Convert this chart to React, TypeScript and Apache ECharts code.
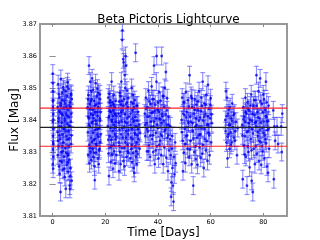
import React, { useEffect, useRef } from "react";
import * as echarts from "echarts";

const TITLE = "Beta Pictoris Lightcurve";
const X_TICKS = [0, 20, 40, 60, 80];
const X_MIN = -4.8;
const X_MAX = 89;
const MEAN = 3.8377;
const UPPER = 3.8437;
const LOWER = 3.8318;
const ERR = 0.0028;

const seg0 = [[0.05,3.8545],[0.1,3.8515],[0.15,3.849],[0.2,3.8462],[0.1,3.844],[0.25,3.8418],[0.05,3.8395],[0.3,3.8372],[0.15,3.835],[0.2,3.8331],[0.1,3.8308],[0.3,3.8285],[0.05,3.8262],[0.2,3.8248],[0.25,3.8402],[0.1,3.8458],[0.3,3.8325]];
const seg1 = [[1.9,3.844],[1.9,3.8362],[2.0,3.829],[2.1,3.8512],[2.2,3.8405],[2.3,3.8318],[2.4,3.8255],[2.5,3.847],[2.6,3.838],[2.7,3.8232],[2.8,3.8425],[2.9,3.834],[3.0,3.8175],[3.1,3.8528],[3.2,3.8452],[3.3,3.83],[3.4,3.8392],[3.5,3.8268],[3.6,3.8485],[3.7,3.8355],[3.8,3.8415],[3.9,3.8245],[4.0,3.8502],[4.1,3.833],[4.2,3.8438],[4.3,3.8285],[4.4,3.8375],[4.5,3.846],[4.6,3.8222],[4.7,3.8398],[4.8,3.8312],[4.9,3.849],[5.0,3.8185],[5.1,3.842],[5.2,3.835],[5.3,3.826],[5.4,3.8475],[5.5,3.8388],[5.6,3.8295],[5.7,3.8518],[5.8,3.8432],[5.9,3.8238],[6.0,3.8365],[6.1,3.8498],[6.2,3.841],[6.3,3.8275],[6.4,3.8342],[6.5,3.8195],[6.6,3.8455],[6.7,3.838],[6.8,3.825],[6.9,3.8482],[7.0,3.8325],[7.1,3.842],[7.2,3.821],[7.25,3.8465],[6.55,3.8185],[2.35,3.848],[3.45,3.842],[4.55,3.8405],[5.65,3.834],[6.75,3.844],[2.55,3.8352],[3.65,3.8318],[4.75,3.8452],[5.85,3.829],[6.95,3.8395],[2.15,3.8395],[4.15,3.8372],[5.25,3.8442],
  [2.05,3.8335],[2.45,3.8428],[2.85,3.8272],[3.25,3.8378],[3.55,3.8462],[3.85,3.8302],[4.25,3.8495],[4.45,3.8248],[4.85,3.8365],[5.15,3.8298],[5.45,3.8412],[5.75,3.8268],[6.15,3.8318],[6.35,3.8445],[6.65,3.8225],[7.05,3.8478],[7.15,3.8352],[3.05,3.8445],[5.55,3.8505],[6.25,3.8382]];
const seg2 = [[13.3,3.844],[13.4,3.8362],[13.5,3.829],[13.6,3.8478],[13.7,3.8405],[13.8,3.857],[13.9,3.8322],[14.0,3.8265],[14.1,3.845],[14.2,3.838],[14.3,3.852],[14.4,3.83],[14.5,3.8418],[14.6,3.8345],[14.7,3.8275],[14.8,3.8465],[14.9,3.8392],[15.0,3.853],[15.1,3.831],[15.2,3.8432],[15.3,3.836],[15.4,3.8495],[15.5,3.8285],[15.6,3.8405],[15.7,3.8338],[15.8,3.846],[15.9,3.8255],[16.0,3.8212],[16.1,3.8425],[16.2,3.837],[16.3,3.8515],[16.4,3.8298],[16.5,3.8448],[16.6,3.8388],[16.7,3.832],[16.8,3.8475],[16.9,3.8355],[17.0,3.8498],[17.1,3.8412],[17.2,3.828],[17.3,3.844],[17.4,3.8348],[17.5,3.8262],[17.6,3.8452],[17.7,3.8375],[17.8,3.831],[17.9,3.848],[18.0,3.8398],[18.1,3.833],[18.2,3.8425],[13.55,3.841],[14.25,3.8435],[15.15,3.8395],[16.05,3.834],[16.95,3.8425],[17.85,3.8405],[14.65,3.849],
  [13.45,3.8465],[13.85,3.8385],[14.15,3.8312],[14.45,3.8458],[14.95,3.8332],[15.35,3.8415],[15.65,3.8298],[15.95,3.8445],[16.35,3.8398],[16.55,3.8325],[17.05,3.8372],[17.35,3.8485],[17.65,3.8305],[18.05,3.8465],[18.25,3.8355]];
const seg3 = [[21.0,3.838],[21.1,3.847],[21.2,3.8295],[21.3,3.8408],[21.4,3.8225],[21.5,3.8482],[21.6,3.835],[21.7,3.8428],[21.8,3.8315],[21.9,3.8462],[22.0,3.8375],[22.1,3.827],[22.2,3.8445],[22.3,3.8338],[22.4,3.852],[22.5,3.84],[22.6,3.8292],[22.7,3.8455],[22.8,3.8365],[22.9,3.8248],[23.0,3.843],[23.1,3.8322],[23.2,3.8478],[23.3,3.8385],[23.4,3.8302],[23.5,3.844],[23.6,3.8355],[23.7,3.8265],[23.8,3.8418],[23.9,3.834],[24.0,3.846],[24.1,3.8378],[24.2,3.829],[24.3,3.8412],[21.45,3.8412],[22.55,3.8395],[23.65,3.842],
  [21.15,3.8338],[21.65,3.8455],[22.05,3.8425],[22.35,3.8318],[22.85,3.8412],[23.15,3.8448],[23.45,3.8375],[23.95,3.8395],[24.25,3.8348]];
const seg4 = [[25.0,3.842],[25.1,3.833],[25.2,3.824],[25.3,3.8458],[25.4,3.837],[25.5,3.8485],[25.6,3.83],[25.7,3.8412],[25.8,3.8262],[25.9,3.8448],[26.0,3.8355],[26.1,3.852],[26.2,3.8395],[26.3,3.8312],[26.4,3.865],[26.5,3.868],[26.6,3.843],[26.7,3.8345],[26.8,3.859],[26.9,3.8272],[27.0,3.858],[27.1,3.8465],[27.2,3.838],[27.3,3.8255],[27.4,3.854],[27.5,3.8418],[27.6,3.833],[27.7,3.86],[27.8,3.857],[27.9,3.845],[28.0,3.8365],[28.1,3.8285],[28.2,3.8492],[28.3,3.8405],[28.4,3.8322],[28.5,3.844],[28.6,3.8355],[28.7,3.847],[28.8,3.8298],[28.9,3.841],[26.25,3.846],[27.55,3.85],[28.15,3.839],
  [25.15,3.8392],[25.45,3.8318],[25.75,3.8475],[26.05,3.8425],[26.55,3.8375],[26.85,3.8445],[27.15,3.8312],[27.45,3.8395],[27.85,3.8345],[28.25,3.8455],[28.55,3.8302],[28.85,3.8368]];
const seg5 = [[29.5,3.828],[29.6,3.842],[29.7,3.8345],[29.8,3.8455],[29.9,3.831],[30.0,3.85],[30.1,3.8372],[30.2,3.8268],[30.3,3.843],[30.4,3.834],[30.5,3.8478],[30.6,3.8298],[30.7,3.8395],[30.8,3.825],[30.9,3.844],[31.0,3.8235],[31.1,3.836],[31.2,3.8462],[31.3,3.8318],[31.4,3.841],[31.5,3.861],[31.6,3.8285],[31.7,3.838],[31.8,3.8445],[31.9,3.833],[32.0,3.8262],[32.1,3.8398],[32.2,3.8352],[32.3,3.8295],[32.4,3.8425],[32.6,3.834],[32.8,3.8385],[33.0,3.831],[33.2,3.836],
  [29.65,3.8385],[30.05,3.8322],[30.35,3.8405],[30.65,3.8452],[31.05,3.8398],[31.35,3.8355],[31.75,3.8302],[32.15,3.8445],[32.5,3.8372]];
const seg6 = [[35.0,3.842],[35.2,3.835],[35.4,3.847],[35.6,3.839],[35.8,3.8302],[36.0,3.844],[36.2,3.8365],[36.4,3.8492],[36.6,3.832],[36.8,3.8412],[37.0,3.8285],[37.2,3.845],[37.4,3.8378],[37.6,3.8505],[37.8,3.834],[38.0,3.8425],[38.2,3.83],[38.4,3.8465],[38.5,3.857],[38.6,3.8395],[38.8,3.8262],[39.0,3.8448],[39.2,3.836],[39.4,3.852],[39.5,3.86],[39.6,3.8318],[39.8,3.8432],[40.0,3.8375],[40.2,3.828],[40.4,3.8488],[40.6,3.8405],[40.8,3.8335],[41.0,3.846],[41.2,3.829],[41.4,3.86],[41.5,3.842],[41.6,3.835],[41.8,3.8475],[42.0,3.8262],[42.2,3.8398],[42.4,3.8315],[42.6,3.85],[42.8,3.837],[43.0,3.855],[43.2,3.8282],[43.4,3.843],[43.6,3.8345],[43.8,3.824],[44.0,3.841],[44.2,3.8305],[36.1,3.841],[37.3,3.8395],[38.3,3.838],[39.3,3.8405],[40.3,3.8425],[41.3,3.839],[42.3,3.844],[43.3,3.8385],
  [35.1,3.8385],[35.5,3.8435],[35.9,3.8372],[36.3,3.8302],[36.7,3.8458],[37.1,3.8352],[37.5,3.8422],[37.9,3.8465],[38.1,3.8352],[38.7,3.8428],[39.1,3.8305],[39.7,3.8385],[40.1,3.8455],[40.5,3.8322],[40.9,3.8402],[41.1,3.8355],[41.7,3.8412],[42.1,3.8475],[42.5,3.8365],[42.9,3.8418],[43.5,3.8468],[43.9,3.8352],[44.1,3.8385]];
const seg7 = [[44.6,3.834],[44.8,3.829],[45.0,3.816],[45.1,3.8205],[45.3,3.831],[45.5,3.825],[45.7,3.8195],[45.9,3.8145],[46.1,3.8285],[46.3,3.823],[46.5,3.833],[46.7,3.8265],[44.7,3.838],[45.4,3.835]];
const seg8 = [[49.0,3.84],[49.2,3.847],[49.4,3.8335],[49.5,3.824],[49.6,3.842],[49.8,3.8298],[50.0,3.8455],[50.2,3.8372],[50.4,3.8265],[50.6,3.8488],[50.8,3.835],[51.0,3.8425],[51.2,3.831],[51.4,3.8462],[51.6,3.839],[51.8,3.8285],[52.0,3.854],[52.2,3.841],[52.4,3.8335],[52.6,3.8475],[52.8,3.8262],[53.0,3.844],[53.2,3.8365],[53.4,3.8195],[53.6,3.842],[53.8,3.83],[54.0,3.8465],[54.2,3.838],[54.4,3.8278],[54.6,3.8448],[54.8,3.8345],[55.0,3.826],[55.2,3.843],[55.4,3.8352],[55.6,3.849],[55.8,3.8315],[56.0,3.8408],[56.2,3.8282],[56.4,3.847],[56.6,3.8375],[56.8,3.8295],[57.0,3.852],[57.2,3.8398],[57.4,3.825],[57.6,3.8452],[57.8,3.834],[58.0,3.8418],[58.2,3.8305],[58.4,3.8478],[58.6,3.8385],[58.8,3.8272],[59.0,3.851],[59.2,3.836],[59.4,3.8435],[59.6,3.829],[59.8,3.8405],[60.0,3.8468],[60.2,3.833],[60.4,3.839],[50.1,3.8415],[51.5,3.8395],[53.1,3.839],[54.5,3.8405],[56.1,3.8355],[57.5,3.841],[59.1,3.8385],
  [49.1,3.8362],[49.7,3.8455],[50.3,3.8325],[50.7,3.8408],[51.1,3.8352],[51.7,3.8442],[52.1,3.8308],[52.5,3.8395],[52.9,3.8468],[53.5,3.8342],[53.9,3.8432],[54.3,3.8318],[54.7,3.8385],[55.1,3.8458],[55.5,3.8398],[55.9,3.8355],[56.3,3.8428],[56.7,3.8445],[57.1,3.8322],[57.7,3.8372],[58.1,3.8448],[58.5,3.8335],[58.9,3.8412],[59.5,3.8352],[59.9,3.8448],[60.3,3.8418]];
const seg9 = [[65.6,3.84],[65.8,3.849],[66.0,3.833],[66.2,3.847],[66.4,3.828],[66.6,3.842],[66.8,3.8355],[67.0,3.8385],[67.2,3.831],[67.4,3.844],[67.6,3.8362],[67.8,3.8405],[68.0,3.833],[68.2,3.8452],[68.5,3.8378],[68.8,3.8345],[69.0,3.842],[69.3,3.8365],[69.6,3.8395],[70.0,3.829],[70.3,3.8375],
  [65.7,3.8365],[66.1,3.8412],[66.5,3.8348],[66.9,3.8432],[67.3,3.8385],[67.7,3.8322],[68.1,3.8398],[68.7,3.8415],[69.2,3.8335]];
const seg10 = [[72.0,3.8385],[72.2,3.8215],[72.4,3.844],[72.6,3.832],[72.8,3.841],[73.0,3.835],[73.2,3.847],[73.4,3.8285],[73.6,3.842],[73.8,3.8195],[74.0,3.8455],[74.2,3.8365],[74.4,3.83],[74.6,3.843],[74.8,3.8252],[75.0,3.84],[75.2,3.834],[75.4,3.848],[75.6,3.821],[75.8,3.8372],[76.0,3.8175],[76.2,3.8445],[76.4,3.831],[76.6,3.8415],[76.8,3.8262],[77.0,3.8462],[77.2,3.838],[77.4,3.854],[77.6,3.8295],[77.8,3.8425],[78.0,3.835],[78.2,3.849],[78.4,3.8272],[78.6,3.8405],[78.8,3.853],[79.0,3.833],[79.2,3.826],[79.4,3.845],[79.6,3.8375],[79.8,3.8302],[80.0,3.848],[80.2,3.8395],[80.4,3.828],[80.6,3.8432],[80.8,3.834],[81.0,3.852],[81.2,3.841],[81.4,3.8255],[81.6,3.8368],[81.8,3.8235],[82.0,3.8445],[82.2,3.831],[73.1,3.8395],[74.5,3.839],[75.9,3.842],[77.3,3.8395],[78.7,3.837],[80.1,3.836],[81.5,3.8395],
  [72.1,3.8352],[72.5,3.8402],[72.9,3.8292],[73.3,3.8425],[73.7,3.8362],[74.1,3.8318],[74.3,3.8435],[74.7,3.8378],[75.1,3.8445],[75.5,3.8305],[75.7,3.8398],[76.1,3.8358],[76.5,3.8462],[76.9,3.8392],[77.1,3.8318],[77.5,3.8445],[77.9,3.8362],[78.1,3.8408],[78.5,3.8335],[78.9,3.8458],[79.1,3.8392],[79.5,3.8318],[79.9,3.8425],[80.3,3.8465],[80.5,3.8352],[80.9,3.8412],[81.1,3.8328],[81.3,3.8455],[81.7,3.8398],[82.1,3.8375]];
const seg11 = [[83.8,3.843],[84.0,3.8215],[84.2,3.838],[84.5,3.8335],[85.2,3.838],[85.6,3.8325],[86.8,3.838],[87.0,3.83],[87.2,3.842]];

const SEGMENTS = [seg0, seg1, seg2, seg3, seg4, seg5, seg6, seg7, seg8, seg9, seg10, seg11];

const FONT = "DejaVu Sans";

export default function App() {
  const ref = useRef<HTMLDivElement>(null);
  useEffect(() => {
    if (!ref.current) return;
    const chart = echarts.init(ref.current, null, { renderer: "svg" });
    const points: number[][] = [];
    SEGMENTS.forEach((s) => s.forEach((p) => points.push([p[0], p[1], ERR])));
    const barStyle = { stroke: "rgba(50,50,255,0.55)", lineWidth: 1.1 };
    const CAP = 2.5;
    const hLine = (y: number, color: string) => ({
      type: "line",
      data: [[X_MIN, y], [X_MAX, y]],
      symbol: "none",
      silent: true,
      z: 5,
      lineStyle: { color, width: 1.2 },
    });
    chart.setOption({
      animation: false,
      title: {
        text: TITLE,
        left: 163.5,
        textAlign: "center",
        top: 8,
        textStyle: { fontFamily: FONT, fontSize: 12, fontWeight: "normal", color: "#000" },
      },
      grid: {
        left: 40, right: 33, top: 24, bottom: 24,
        outerBoundsMode: "none",
        containLabel: false,
        show: true, borderColor: "#999", borderWidth: 2, backgroundColor: "#fff",
      },
      xAxis: [
        {
          type: "value", min: X_MIN, max: X_MAX,
          name: "Time [Days]", nameLocation: "middle", nameGap: 10,
          nameMoveOverlap: false,
          nameTextStyle: { fontFamily: FONT, fontSize: 12, color: "#000" },
          axisLine: { show: false },
          splitLine: { show: false },
          axisTick: { inside: true, length: 3, customValues: X_TICKS, lineStyle: { color: "#888" } },
          axisLabel: { customValues: X_TICKS, fontFamily: FONT, fontSize: 6.5, color: "#000", margin: 2 },
        },
        {
          type: "value", min: X_MIN, max: X_MAX, position: "top",
          axisLine: { show: false }, splitLine: { show: false },
          axisTick: { inside: true, length: 3, customValues: X_TICKS, lineStyle: { color: "#888" } },
          axisLabel: { show: false },
        },
      ],
      yAxis: [
        {
          type: "value", min: 3.81, max: 3.87, interval: 0.01,
          name: "Flux [Mag]", nameLocation: "middle", nameGap: 20, nameRotate: 90,
          nameMoveOverlap: false,
          nameTextStyle: { fontFamily: FONT, fontSize: 12, color: "#000" },
          axisLine: { show: false }, splitLine: { show: false },
          axisTick: { inside: true, length: 3, lineStyle: { color: "#888" } },
          axisLabel: {
            fontFamily: FONT, fontSize: 6.5, color: "#000", margin: 3,
            formatter: (v: number) => v.toFixed(2),
          },
        },
        {
          type: "value", min: 3.81, max: 3.87, interval: 0.01, position: "right",
          axisLine: { show: false }, splitLine: { show: false },
          axisTick: { inside: true, length: 3, lineStyle: { color: "#888" } },
          axisLabel: { show: false },
        },
      ],
      series: [
        {
          type: "custom",
          clip: true,
          data: points,
          encode: { x: 0, y: 1 },
          z: 2,
          renderItem: (params: any, api: any) => {
            const t = api.value(0), y = api.value(1), e = api.value(2);
            const hi = api.coord([t, y + e]);
            const lo = api.coord([t, y - e]);
            return {
              type: "group",
              children: [
                { type: "line", shape: { x1: hi[0], y1: hi[1], x2: lo[0], y2: lo[1] }, style: barStyle },
                { type: "line", shape: { x1: hi[0] - CAP, y1: hi[1], x2: hi[0] + CAP, y2: hi[1] }, style: barStyle },
                { type: "line", shape: { x1: lo[0] - CAP, y1: lo[1], x2: lo[0] + CAP, y2: lo[1] }, style: barStyle },
              ],
            };
          },
        },
        {
          type: "scatter",
          data: points.map((p) => [p[0], p[1]]),
          symbol: "circle",
          symbolSize: 2.8,
          itemStyle: { color: "#0000ee" },
          z: 3,
          silent: true,
        },
        hLine(UPPER, "rgba(255,0,0,0.85)"),
        hLine(LOWER, "rgba(255,0,0,0.85)"),
        hLine(MEAN, "#222"),
      ],
    });
    return () => chart.dispose();
  }, []);
  return (
    <div
      ref={ref}
      style={{ position: "fixed", left: 0, top: 0, width: 320, height: 240 }}
    />
  );
}
